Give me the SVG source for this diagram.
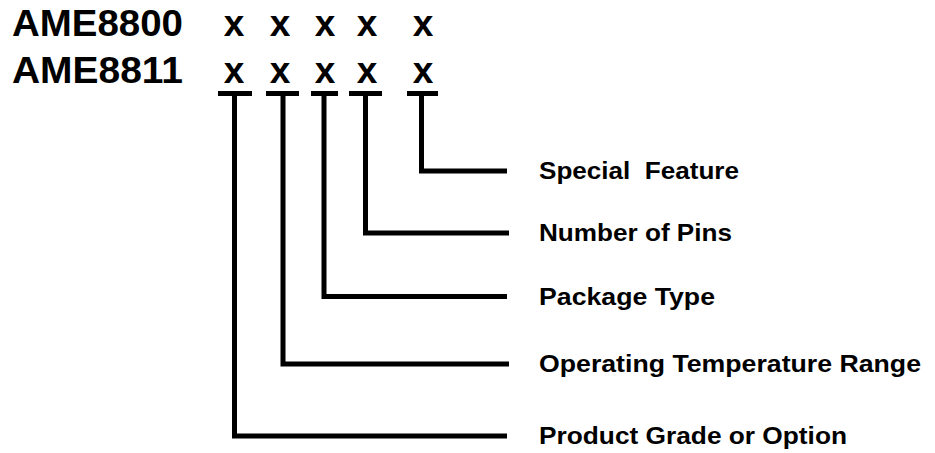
<svg xmlns="http://www.w3.org/2000/svg" width="935" height="453" viewBox="0 0 935 453">
<style>
.t{font-family:"Liberation Sans",Arial,sans-serif;font-weight:bold;fill:#000}
.title{font-size:37px}
.x{font-size:37px;text-anchor:middle}
.lbl{font-size:24px}
.ln{fill:none;stroke:#000;stroke-width:5;stroke-linejoin:miter;stroke-linecap:butt}
</style>
<rect width="935" height="453" fill="#fff"/>
<g id="title">
<text class="t title" x="12" y="36" textLength="171" lengthAdjust="spacingAndGlyphs">AME8800</text>
<text class="t title" x="12" y="83" textLength="171" lengthAdjust="spacingAndGlyphs">AME8811</text>
</g>
<g id="codes">
<text class="t x" x="234" y="36">x</text>
<text class="t x" x="280" y="36">x</text>
<text class="t x" x="325" y="36">x</text>
<text class="t x" x="367" y="36">x</text>
<text class="t x" x="423" y="36">x</text>
<text class="t x" x="234" y="83">x</text>
<text class="t x" x="280" y="83">x</text>
<text class="t x" x="325" y="83">x</text>
<text class="t x" x="367" y="83">x</text>
<text class="t x" x="423" y="83">x</text>
</g>
<g id="connectors">
<line class="ln" x1="218" y1="93.5" x2="252" y2="93.5"/>
<line class="ln" x1="266" y1="93.5" x2="299" y2="93.5"/>
<line class="ln" x1="311" y1="93.5" x2="338" y2="93.5"/>
<line class="ln" x1="349" y1="93.5" x2="382" y2="93.5"/>
<line class="ln" x1="407" y1="93.5" x2="438" y2="93.5"/>
<path class="ln" d="M421.5 93.5V171H507"/>
<path class="ln" d="M365.5 93.5V233H509"/>
<path class="ln" d="M324 93.5V296.5H507"/>
<path class="ln" d="M283 93.5V364H509"/>
<path class="ln" d="M234.5 93.5V436H507"/>
</g>
<g id="label-special">
<text class="t lbl" x="539" y="179" textLength="200" lengthAdjust="spacingAndGlyphs" xml:space="preserve">Special  Feature</text>
</g>
<g id="label-pins">
<text class="t lbl" x="539" y="241" textLength="193" lengthAdjust="spacingAndGlyphs">Number of Pins</text>
</g>
<g id="label-package">
<text class="t lbl" x="539" y="304.5" textLength="176" lengthAdjust="spacingAndGlyphs">Package Type</text>
</g>
<g id="label-temp">
<text class="t lbl" x="539" y="372" textLength="382" lengthAdjust="spacingAndGlyphs">Operating Temperature Range</text>
</g>
<g id="label-grade">
<text class="t lbl" x="539" y="444" textLength="308" lengthAdjust="spacingAndGlyphs">Product Grade or Option</text>
</g>
</svg>
